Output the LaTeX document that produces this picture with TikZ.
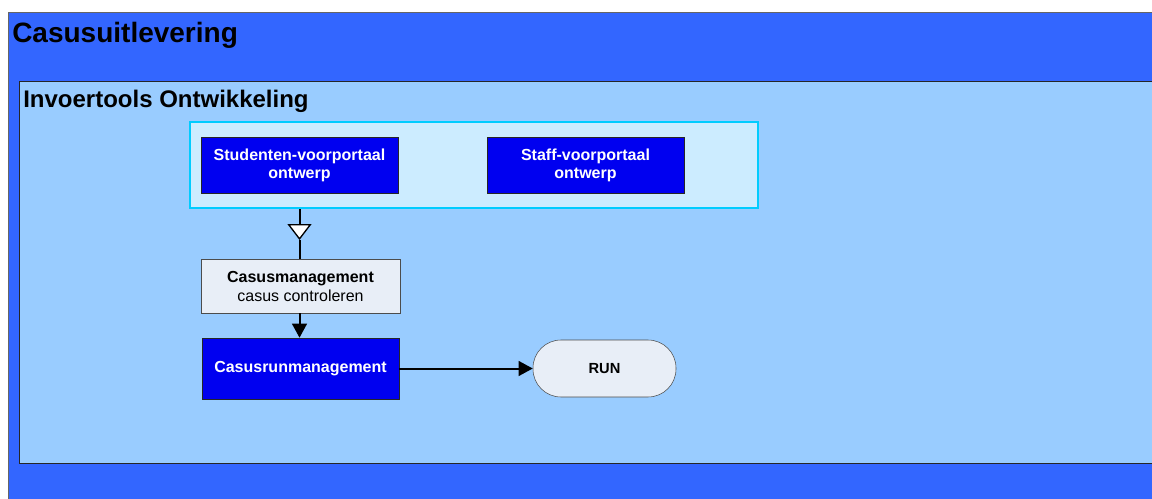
\documentclass[tikz,border=0pt]{standalone}
\usepackage{fontspec}
\setmainfont{Liberation Sans}
\usetikzlibrary{arrows.meta,positioning}

\definecolor{poolblue}{RGB}{51,102,255}
\definecolor{laneblue}{RGB}{153,204,255}
\definecolor{groupfill}{RGB}{204,236,255}
\definecolor{groupline}{RGB}{0,204,255}
\definecolor{taskblue}{RGB}{0,0,240}
\definecolor{palebox}{RGB}{232,238,247}

\begin{document}
\begin{tikzpicture}[x=0.75pt,y=-0.75pt,
    heading/.style={anchor=base west,inner sep=0pt,font=\bfseries\fontsize{#1}{#1}\selectfont},
    bluetask/.style={draw=black!85,fill=taskblue,text=white,align=center,inner sep=0pt,
      font=\bfseries\fontsize{12}{13.5}\selectfont,minimum width=147.75pt,minimum height=42pt},
    palebox/.style={draw=black!70,fill=palebox,align=center,inner sep=0pt,
      font=\fontsize{12}{14.25}\selectfont,minimum width=149.25pt,minimum height=40.5pt},
    flow/.style={line width=1.5pt,-{Triangle[width=11pt,length=10.5pt]}}]
    \useasboundingbox (0,0) rectangle (1152,499);
    \clip (0,0) rectangle (1152,499);
    % pool and lane
    \draw[fill=poolblue,draw=black!60,line width=0.75pt] (8,13) rectangle (1180,520);
    \draw[fill=laneblue,draw=black!85,line width=0.75pt] (19,82) rectangle (1180,463);
    \node[heading=21] (pool) at (12,43) {Casusuitlevering};
    \node[heading=18] (lane) at (23,108) {Invoertools Ontwikkeling};
    % group of the two portals
    \node[draw=groupline,fill=groupfill,line width=1.5pt,minimum width=426pt,minimum height=64.5pt] (group) at (474,165) {};
    \node[bluetask] (stud) at (299.5,165) {Studenten-voorportaal\\ontwerp};
    \node[bluetask] (staff) at (585.5,165) {Staff-voorportaal\\ontwerp};
    % the rest of the flow
    \node[palebox] (casm) at (300.5,286) {\textbf{Casusmanagement}\\casus controleren};
    \node[bluetask,minimum height=45.75pt] (casrun) at (300.5,368.5) {Casusrunmanagement};
    \node[draw=black!70,fill=palebox,rounded corners=21pt,minimum width=107.25pt,minimum height=42.75pt,
      font=\bfseries\fontsize{11}{12}\selectfont] (run) at (604.5,368.5) {RUN};
    \coordinate (merge) at (299.5,240);
    \draw[line width=1.5pt,-{Triangle[open,fill=white,width=18pt,length=12pt,line width=1pt]}]
      (group.south -| stud.south) -- (merge);
    \draw[flow] (merge) -- (merge |- casm.north) (casm.south -| merge) -- (casrun.north -| merge);
    \draw[flow] (casrun) -- (run);
\end{tikzpicture}
\end{document}
